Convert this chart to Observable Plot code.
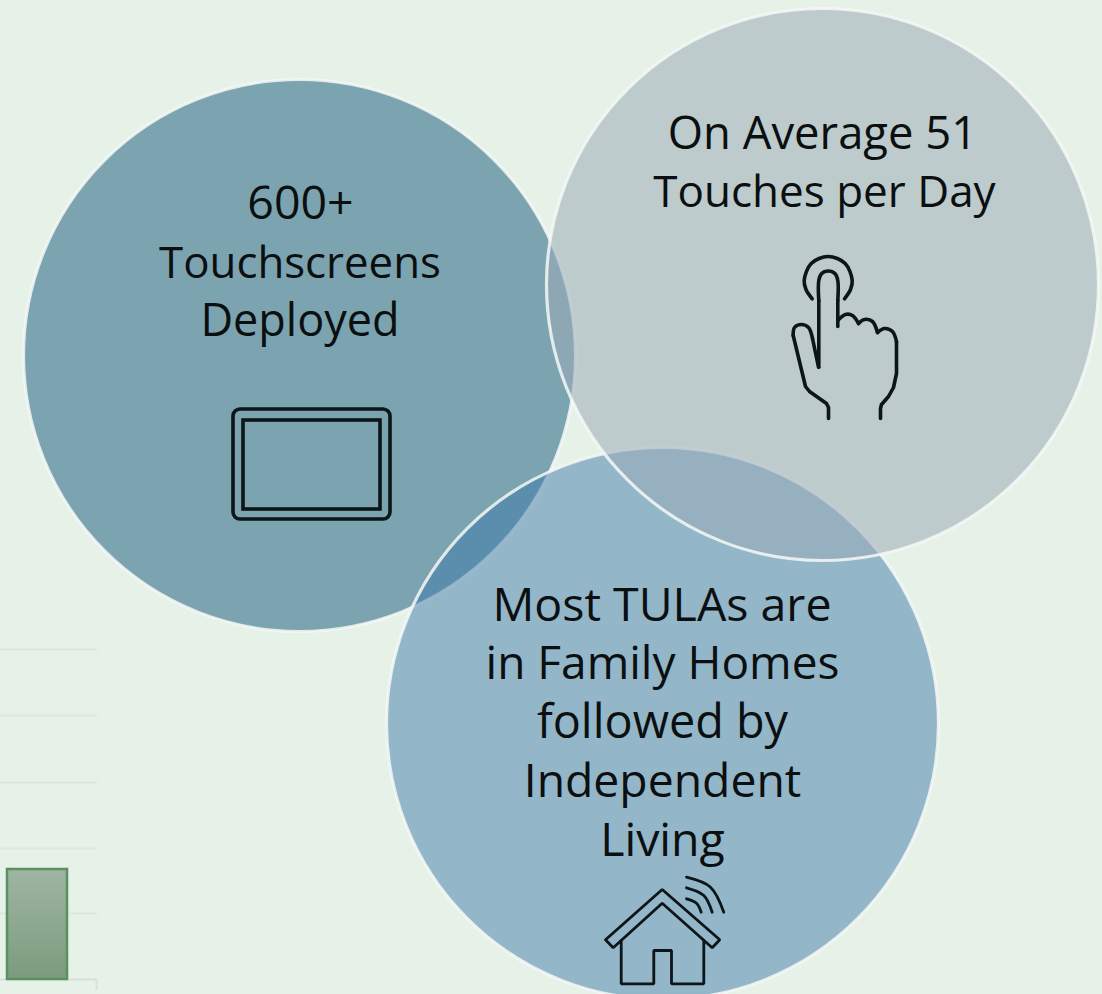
<!DOCTYPE html>
<html><head><meta charset="utf-8">
<script src="https://cdn.jsdelivr.net/npm/d3@7"></script>
<script src="https://cdn.jsdelivr.net/npm/@observablehq/plot@0.6"></script>
<style>html,body{margin:0;padding:0;background:#e6f1e7;overflow:hidden}svg{display:block}</style>
</head><body><div id="chart"></div>
<script>
const circleX = [299, 662, 822];
const circleY = [355, 723, 284];
const circleR = [276, 276, 276];
const circleFill = ["#7ca3b0", "#3976a8", "#9aacb8"];
const circleOpacity = [1, 0.48, 0.55];
const circles = circleX.map((x, i) => ({x, y: circleY[i], r: circleR[i], fill: circleFill[i], o: circleOpacity[i]}));

const labelLines = ["600+", "Touchscreens", "Deployed", "On Average 51", "Touches per Day", "Most TULAs are", "in Family Homes", "followed by", "Independent", "Living"];
const labelX = [300, 299.5, 299.5, 822, 824, 661.5, 662, 662, 662, 662];
const labelY = [204, 263, 321, 134, 192, 606, 664, 723, 782, 841];
const labelSize = [46.5, 43.8, 45, 45.4, 44, 46.5, 46, 46.8, 46.3, 46.5];
const labels = labelLines.map((t, i) => ({t, x: labelX[i], y: labelY[i], s: labelSize[i]}));

const gridY = [649, 715, 782, 848, 913];
const baseY = [979];
const barLeft = [7], barRight = [67], barTop = [869], barBottom = [979];

const tabletOuter = [{x1: 233, x2: 390, y1: 409, y2: 519}];
const tabletInner = [{x1: 243, x2: 380, y1: 420, y2: 509}];

const handCurves = [
  [[818.3,300],[818.3,280],[821,273.3],[827.8,270.5],[834.6,273.3],[837.3,280],[837.3,300]],
  [[811.7,298.3],[805.5,289],[803.7,280],[810.7,263],[827.7,256],[844.7,263],[851.7,280],[850,289],[844,298.3]],
  [[837.3,320],[845,314],[852,315],[858,323]],
  [[858,323],[864,319],[872,321],[877,332]],
  [[877,332],[884,328],[892,331],[896,341]],
  [[812,338],[808,327],[801,324],[794,327],[792.7,335]]
];
const handStraights = [
  [[818.3,366.7],[818.3,300]],
  [[837.3,300],[837.3,326]],
  [[896,341],[896,373],[893,387],[888,396],[881,404],[880,408],[880,418]],
  [[818,366.7],[812,338]],
  [[792.7,335],[805,386],[809,391],[826,403],[828,407],[828,418]]
];
const wifiPaths = [
  [[686,876.7],[710,886.7],[723.3,911.7]],
  [[686,887.3],[703.3,895],[711.7,911.7]],
  [[686,898.3],[696,902.7],[700.7,911.7]]
];
const housePaths = [
  [[605,939.3],[661.7,889],[719.3,939.3],[711.7,947.3],[661.7,902.7],[612.7,947.3],[605,939.3]],
  [[620.7,940],[620.7,983.3],[653.3,983.3],[653.3,950],[671,950],[671,983.3],[703.3,983.3],[703.3,940]]
];
const toPts = (paths) => paths.flatMap((p, k) => p.map(([x, y]) => ({x, y, k})));

const gradient = () => {
  const defs = d3.create("svg:defs");
  const g = defs.append("linearGradient").attr("id", "barFill").attr("x1", 0).attr("x2", 0).attr("y1", 0).attr("y2", 1);
  g.append("stop").attr("offset", "0%").attr("stop-color", "#9fb5a3");
  g.append("stop").attr("offset", "100%").attr("stop-color", "#7c9b7e");
  return defs.node();
};

const ink = "#0c1518";
const plot = Plot.plot({
  width: 1102, height: 994,
  margin: 0,
  style: {background: "transparent"},
  x: {domain: [0, 1102], range: [0, 1102], axis: null},
  y: {domain: [0, 994], range: [0, 994], axis: null},
  r: {type: "identity"},
  opacity: {type: "identity"},
  color: {type: "identity"},
  marks: [
    gradient,
    Plot.ruleY(gridY, {x1: 0, x2: 97, stroke: "#dfe5df", strokeWidth: 2}),
    Plot.ruleY(baseY, {x1: 0, x2: 97, stroke: "#d9e0da", strokeWidth: 2}),
    Plot.ruleX([96], {y1: 979, y2: 990, stroke: "#d9e0da", strokeWidth: 2}),
    Plot.rect(barLeft.map((l, i) => ({l, r: barRight[i], t: barTop[i], b: barBottom[i]})), {
      x1: "l", x2: "r", y1: "t", y2: "b", fill: "url(#barFill)", stroke: "#5a9160", strokeWidth: 2.5
    }),
    Plot.dot(circles, {x: "x", y: "y", r: "r", fill: "fill", fillOpacity: "o", stroke: "#f4f8f6", strokeWidth: 3.2, strokeOpacity: 0.85, sort: null}),
    Plot.rect(tabletOuter, {x1: "x1", x2: "x2", y1: "y1", y2: "y2", rx: 7, fill: "none", stroke: ink, strokeWidth: 3.6}),
    Plot.rect(tabletInner, {x1: "x1", x2: "x2", y1: "y1", y2: "y2", fill: "none", stroke: ink, strokeWidth: 3.6}),
    Plot.line(toPts(handCurves), {x: "x", y: "y", z: "k", curve: "catmull-rom", stroke: ink, strokeWidth: 3.6}),
    Plot.line(toPts(handStraights), {x: "x", y: "y", z: "k", curve: "linear", stroke: ink, strokeWidth: 3.6, strokeLinejoin: "round"}),
    Plot.line(toPts(wifiPaths), {x: "x", y: "y", z: "k", curve: "catmull-rom", stroke: ink, strokeWidth: 2.8}),
    Plot.line(toPts(housePaths), {x: "x", y: "y", z: "k", curve: "linear", stroke: ink, strokeWidth: 2.8, strokeLinejoin: "miter"}),
    Plot.text(labels, {x: "x", y: "y", text: "t", fontSize: "s", fontFamily: "'Open Sans', sans-serif", fill: "#0b0f10", textAnchor: "middle", lineAnchor: "middle"})
  ]
});
document.getElementById("chart").append(plot);
</script></body></html>
